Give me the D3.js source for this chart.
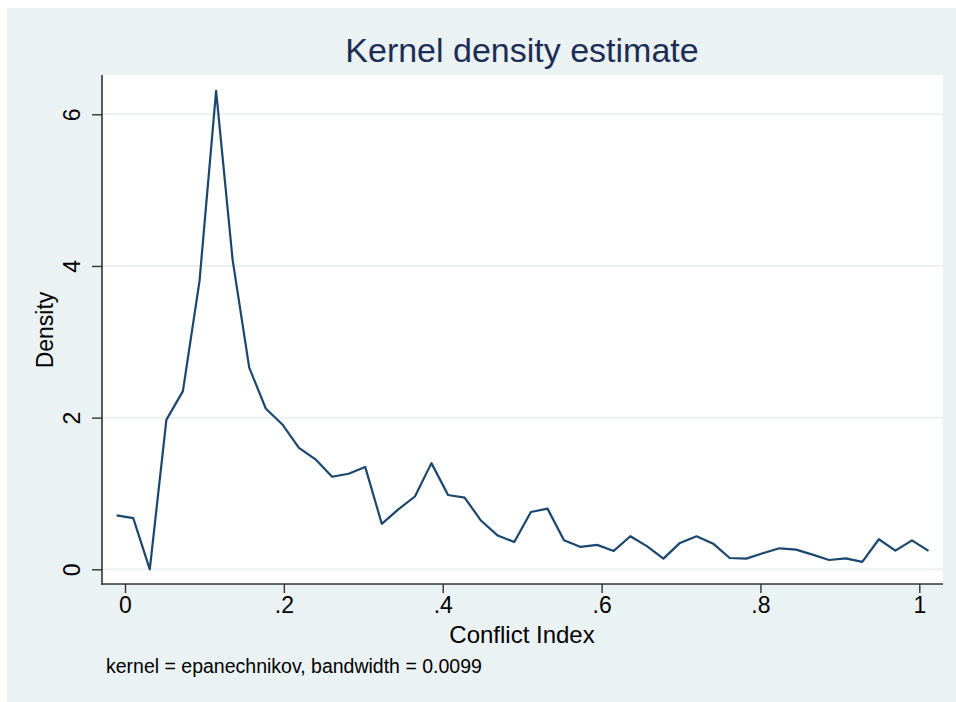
<!DOCTYPE html>
<html>
<head>
<meta charset="utf-8">
<script src="https://cdn.jsdelivr.net/npm/d3@7"></script>
<style>
  body { margin: 0; background: #fff; }
  svg text { font-family: "Liberation Sans", Arial, sans-serif; }
</style>
</head>
<body>
<div id="chart"></div>
<script>
// evaluation points of the kernel density (Stata default n = 50)
const xPoints = [
    -0.0105, 0.0104, 0.0312, 0.0521, 0.0729, 0.0938, 0.1147, 0.1355, 0.1564, 0.1772,
    0.1981, 0.2190, 0.2398, 0.2607, 0.2815, 0.3024, 0.3233, 0.3441, 0.3650, 0.3858,
    0.4067, 0.4276, 0.4484, 0.4693, 0.4901, 0.5110, 0.5319, 0.5527, 0.5736, 0.5944,
    0.6153, 0.6362, 0.6570, 0.6779, 0.6987, 0.7196, 0.7405, 0.7613, 0.7822, 0.8030,
    0.8239, 0.8448, 0.8656, 0.8865, 0.9073, 0.9282, 0.9491, 0.9699, 0.9908, 1.0116
];
const densityValues = [
    0.71, 0.675, 0.0, 1.97, 2.35, 3.80, 6.31, 4.08, 2.66, 2.12,
    1.91, 1.60, 1.45, 1.22, 1.26, 1.35, 0.60, 0.79, 0.96, 1.40,
    0.98, 0.945, 0.64, 0.445, 0.36, 0.755, 0.80, 0.383, 0.295, 0.322,
    0.242, 0.436, 0.305, 0.141, 0.348, 0.436, 0.338, 0.149, 0.141, 0.211,
    0.277, 0.259, 0.193, 0.123, 0.145, 0.097, 0.396, 0.246, 0.382, 0.242
];
const xTicks = [0, 0.2, 0.4, 0.6, 0.8, 1];
const xTickLabels = ["0", ".2", ".4", ".6", ".8", "1"];
const yTicks = [0, 2, 4, 6];

const width = 956, height = 702;
const plot = { left: 102, right: 943, top: 75, bottom: 584 };

const svg = d3.select("#chart").append("svg")
    .attr("width", width)
    .attr("height", height);

// outer graph region
svg.append("rect")
    .attr("x", 7).attr("y", 8)
    .attr("width", width - 7).attr("height", height - 8)
    .attr("fill", "#EAF2F3");

// plot region
svg.append("rect")
    .attr("x", plot.left).attr("y", plot.top)
    .attr("width", plot.right - plot.left).attr("height", plot.bottom - plot.top)
    .attr("fill", "#fff");

const x = d3.scaleLinear().domain([0, 1]).range([125, 919.3]);
const y = d3.scaleLinear().domain([0, 6]).range([569.3, 114.3]);

// horizontal grid
svg.append("g")
    .selectAll("line")
    .data(yTicks)
    .enter().append("line")
    .attr("x1", plot.left).attr("x2", plot.right)
    .attr("y1", d => y(d)).attr("y2", d => y(d))
    .attr("stroke", "#EAF2F3")
    .attr("stroke-width", 2);

// density curve
const line = d3.line()
    .x((d, i) => x(xPoints[i]))
    .y(d => y(d));

svg.append("path")
    .datum(densityValues)
    .attr("d", line)
    .attr("fill", "none")
    .attr("stroke", "#1A476F")
    .attr("stroke-width", 2.2)
    .attr("stroke-linejoin", "round");

// x axis
const xAxis = d3.axisBottom(x)
    .tickValues(xTicks)
    .tickFormat((d, i) => xTickLabels[i])
    .tickSize(9)
    .tickPadding(4);

const gx = svg.append("g")
    .attr("transform", `translate(0, ${plot.bottom})`)
    .call(xAxis);
gx.select(".domain").remove();
gx.append("line")
    .attr("x1", plot.left).attr("x2", plot.right)
    .attr("stroke", "#333").attr("stroke-width", 1.6);
gx.selectAll(".tick line").attr("stroke", "#333").attr("stroke-width", 1.4);
gx.selectAll(".tick text")
    .attr("fill", "#000")
    .style("font-size", "23px");

// y axis
const yAxis = d3.axisLeft(y)
    .tickValues(yTicks)
    .tickFormat(d3.format("d"))
    .tickSize(10);

const gy = svg.append("g")
    .attr("transform", `translate(${plot.left}, 0)`)
    .call(yAxis);
gy.select(".domain").remove();
gy.append("line")
    .attr("y1", plot.top).attr("y2", plot.bottom + 1)
    .attr("stroke", "#333").attr("stroke-width", 1.6);
gy.selectAll(".tick line").attr("stroke", "#333").attr("stroke-width", 1.4);
gy.selectAll(".tick text")
    .attr("fill", "#000")
    .attr("x", null).attr("dy", null)
    .attr("text-anchor", "middle")
    .attr("transform", "translate(-22, 0) rotate(-90)")
    .style("font-size", "23px");

// titles
svg.append("text")
    .attr("x", 522).attr("y", 62)
    .attr("text-anchor", "middle")
    .attr("fill", "#1E2D56")
    .style("font-size", "34px")
    .text("Kernel density estimate");

svg.append("text")
    .attr("x", 522).attr("y", 643)
    .attr("text-anchor", "middle")
    .attr("fill", "#000")
    .style("font-size", "24px")
    .text("Conflict Index");

svg.append("text")
    .attr("transform", "translate(53, 330) rotate(-90)")
    .attr("text-anchor", "middle")
    .attr("fill", "#000")
    .style("font-size", "23px")
    .text("Density");

svg.append("text")
    .attr("x", 106).attr("y", 673)
    .attr("fill", "#000")
    .style("font-size", "19.5px")
    .text("kernel = epanechnikov, bandwidth = 0.0099");
</script>
</body>
</html>
